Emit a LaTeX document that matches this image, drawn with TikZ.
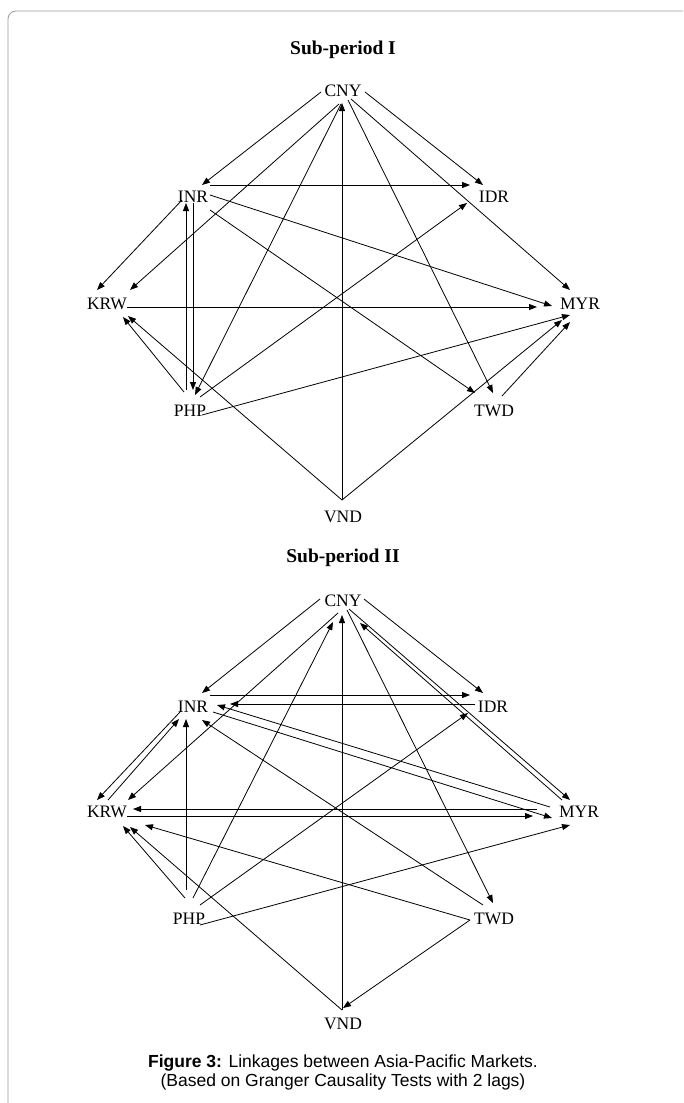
\documentclass[tikz,border=0pt]{standalone}
\usepackage{fontspec}
\setmainfont{Liberation Serif}
\newfontfamily\capfont{Liberation Sans}
\usetikzlibrary{calc,arrows.meta}
\begin{document}
\begin{tikzpicture}[x=1pt,y=-1pt,
  lbl/.style={font=\fontsize{17.5}{17.5}\selectfont, inner sep=0pt},
  ttl/.style={font=\fontsize{19.5}{20}\selectfont\bfseries, inner sep=0pt, anchor=base},
  arr/.style={-{Triangle[length=8pt,width=6pt]}, line width=0.8pt},
  frame/.style={draw=black!40, line width=0.8pt, rounded corners=8pt}]
\useasboundingbox (0,0) rectangle (683,1103);
\draw[frame] (8,1103) -- (8,11) -- (683,11);

% ---------- Sub-period I ----------
\node[ttl] (T1) at (343,54) {Sub-period I};
\node[lbl] (CNYa) at (343,91) {CNY};
\node[lbl] (INRa) at (193,197) {INR};
\node[lbl] (IDRa) at (494,197) {IDR};
\node[lbl] (KRWa) at (107,304) {KRW};
\node[lbl] (MYRa) at (580,304) {MYR};
\node[lbl] (PHPa) at (190,411) {PHP};
\node[lbl] (TWDa) at (494,411) {TWD};
\node[lbl] (VNDa) at (343,517) {VND};

\draw[arr] ($(CNYa)+(-22,1)$) -- ($(INRa)+(9,-12)$);
\draw[arr] ($(CNYa)+(22,1)$) -- ($(IDRa)+(-11,-12)$);
\draw[arr] ($(CNYa)+(-4,13)$) -- ($(KRWa)+(23,-14)$);
\draw[arr] ($(CNYa)+(-2,13)$) -- ($(PHPa)+(5,-16)$);
\draw[arr] ($(CNYa)+(5,9)$) -- ($(TWDa)+(-1,-18)$);
\draw[arr] ($(CNYa)+(8,8)$) -- ($(MYRa)+(-10,-14)$);
\draw[arr] ($(VNDa)+(-1,-17)$) -- ($(CNYa)+(-1,12)$);
\draw[arr] ($(INRa)+(17,-12)$) -- ($(IDRa)+(-24,-12)$);
\draw[arr] ($(INRa)+(-11,3)$) -- ($(KRWa)+(-10,-14)$);
\draw[arr] ($(INRa)+(17,-2)$) -- ($(MYRa)+(-28,2)$);
\draw[arr] ($(INRa)+(17,13)$) -- ($(TWDa)+(-19,-18)$);
\draw[arr] ($(INRa)+(0,6)$) -- ($(PHPa)+(3,-21)$);
\draw[arr] ($(PHPa)+(-4,-21)$) -- ($(INRa)+(-7,6)$);
\draw[arr] ($(PHPa)+(-6,-19)$) -- ($(KRWa)+(16,13)$);
\draw[arr] ($(PHPa)+(10,-14)$) -- ($(IDRa)+(-27,6)$);
\draw[arr] ($(PHPa)+(12,4)$) -- ($(MYRa)+(-10,11)$);
\draw[arr] ($(KRWa)+(20,3)$) -- ($(MYRa)+(-43,3)$);
\draw[arr] ($(VNDa)+(-1,-17)$) -- ($(KRWa)+(21,12)$);
\draw[arr] ($(VNDa)+(-1,-17)$) -- ($(MYRa)+(-18,16)$);
\draw[arr] ($(TWDa)+(8,-15)$) -- ($(MYRa)+(-10,18)$);

% ---------- Sub-period II ----------
\node[ttl] (T2) at (343,562) {Sub-period II};
\node[lbl] (CNYb) at (343,601) {CNY};
\node[lbl] (INRb) at (193,707) {INR};
\node[lbl] (IDRb) at (493,707) {IDR};
\node[lbl] (KRWb) at (107,812) {KRW};
\node[lbl] (MYRb) at (579,812) {MYR};
\node[lbl] (PHPb) at (189,919) {PHP};
\node[lbl] (TWDb) at (494,919) {TWD};
\node[lbl] (VNDb) at (343,1024) {VND};

\draw[arr] ($(CNYb)+(-23,-2)$) -- ($(INRb)+(9,-14)$);
\draw[arr] ($(CNYb)+(21,-2)$) -- ($(IDRb)+(-10,-14)$);
\draw[arr] ($(CNYb)+(-5,12)$) -- ($(KRWb)+(21,-12)$);
\draw[arr] ($(PHPb)+(4,-21)$) -- ($(CNYb)+(-10,21)$);
\draw[arr] ($(VNDb)+(-1,-14)$) -- ($(CNYb)+(-1,14)$);
\draw[arr] ($(CNYb)+(4,9)$) -- ($(TWDb)+(-1,-16)$);
\draw[arr] ($(CNYb)+(6,8)$) -- ($(MYRb)+(-9,-12)$);
\draw[arr] ($(MYRb)+(-17,-12)$) -- ($(CNYb)+(17,22)$);
\draw[arr] ($(INRb)+(17,-12)$) -- ($(IDRb)+(-23,-12)$);
\draw[arr] ($(IDRb)+(-18,-3)$) -- ($(INRb)+(37,-3)$);
\draw[arr] ($(MYRb)+(-29,-5)$) -- ($(INRb)+(24,-2)$);
\draw[arr] ($(INRb)+(20,5)$) -- ($(MYRb)+(-27,6)$);
\draw[arr] ($(INRb)+(-13,5)$) -- ($(KRWb)+(-10,-12)$);
\draw[arr] ($(KRWb)+(1,-12)$) -- ($(INRb)+(-14,12)$);
\draw[arr] ($(PHPb)+(-3,-29)$) -- ($(INRb)+(-7,12)$);
\draw[arr] ($(TWDb)+(-11,-14)$) -- ($(INRb)+(9,13)$);
\draw[arr] ($(MYRb)+(-42,-3)$) -- ($(KRWb)+(26,-3)$);
\draw[arr] ($(KRWb)+(20,4)$) -- ($(MYRb)+(-46,4)$);
\draw[arr] ($(TWDb)+(-24,1)$) -- ($(KRWb)+(38,13)$);
\draw[arr] ($(PHPb)+(-4,-21)$) -- ($(KRWb)+(16,14)$);
\draw[arr] ($(VNDb)+(-1,-14)$) -- ($(KRWb)+(23,15)$);
\draw[arr] ($(PHPb)+(11,-14)$) -- ($(IDRb)+(-25,6)$);
\draw[arr] ($(PHPb)+(11,6)$) -- ($(MYRb)+(-9,13)$);
\draw[arr] ($(TWDb)+(-24,1)$) -- ($(VNDb)+(0,-16)$);

% ---------- caption ----------
\node[font=\capfont\fontsize{17.5}{19}\selectfont, align=center, inner sep=0pt] (cap) at (343,1072)
  {\textbf{Figure 3:} Linkages between Asia-Pacific Markets.\\(Based on Granger Causality Tests with 2 lags)};
\end{tikzpicture}
\end{document}
